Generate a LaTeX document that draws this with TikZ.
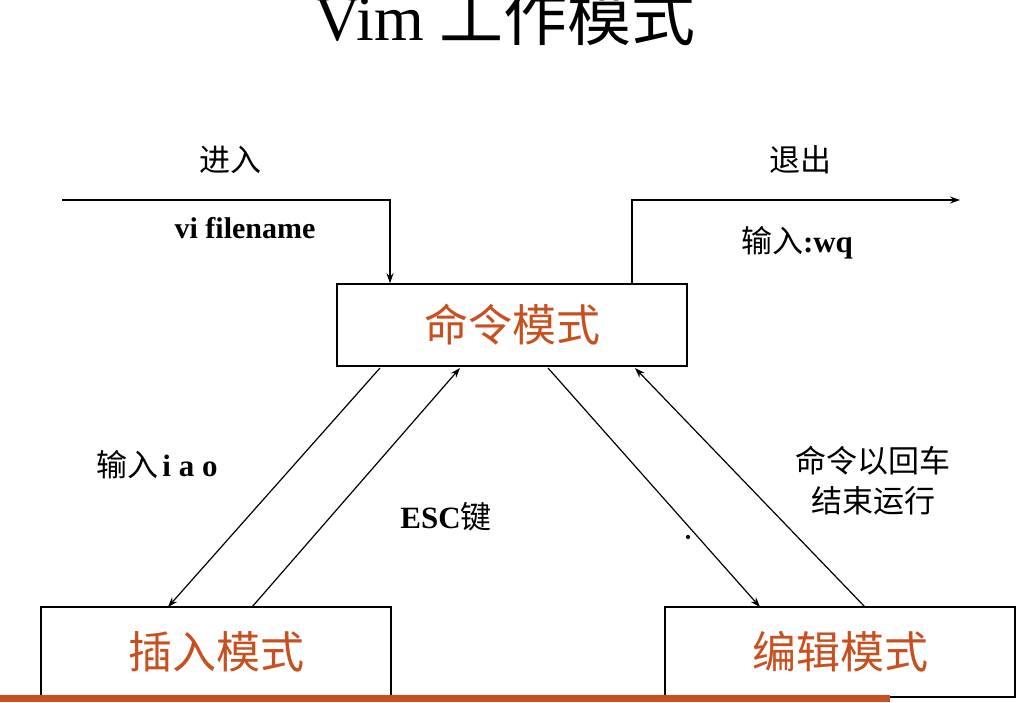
\documentclass[tikz,border=0pt]{standalone}
\usepackage{fontspec}
\setmainfont{Liberation Serif}
\newfontfamily\cjk{Noto Sans CJK SC}
\newcommand{\lt}[1]{{\rmfamily\bfseries #1}}
\usetikzlibrary{arrows.meta}
\definecolor{modec}{HTML}{C8501E}
\begin{document}
\begin{tikzpicture}[x=1pt,y=-1pt,
  mode/.style={draw,line width=1.5pt,minimum width=350pt,minimum height=82pt,font=\cjk\fontsize{44}{46}\selectfont,text=modec},
  lab/.style={font=\cjk\fontsize{31}{40}\selectfont},
  arr/.style={-{Stealth[length=10pt,width=7pt]},line width=1.2pt}]
\useasboundingbox (0,0) rectangle (1034,702);
\fill[white] (0,0) rectangle (1034,702);
\node[font=\fontsize{64}{66}\selectfont] (title) at (505,16) {Vim {\cjk 工作模式}};
\node[mode] (cmd) at (512,325) {命令模式};
\node[mode,minimum height=90pt] (ins) at (216,652) {插入模式};
\node[mode,minimum height=90pt] (edt) at (840,652) {编辑模式};
\fill[modec] (0,695) rectangle (890,702);
\coordinate (inS) at (62,200);
\coordinate (inC) at (390,200);
\coordinate (exC) at (632,200);
\coordinate (exE) at (960,200);
\draw[arr] (inS) -- (inC) -- (inC|-cmd.north);
\draw[arr] (exC|-cmd.north) -- (exC) -- (exE);
\draw[arr] (380,368) -- (168,607);
\draw[arr] (252,607) -- (460,368);
\draw[arr] (548,368) -- (760,607);
\draw[arr] (865,607) -- (635,368);
\node[lab] (l1) at (230,160) {进入};
\node[font=\bfseries\fontsize{30}{32}\selectfont] (l2) at (245,228) {vi filename};
\node[lab] (l3) at (800,160) {退出};
\node[lab] (l4) at (797,243) {输入\lt{:wq}};
\node[lab] (l5) at (157,465) {输入\hspace{4pt}\lt{i a o}};
\node[lab] (l6) at (446,517) {\lt{ESC}键};
\node[lab,align=center] (l7) at (873,481) {命令以回车\\结束运行};
\node[circle,fill,inner sep=1.5pt] (dot) at (688,537) {};
\end{tikzpicture}
\end{document}
